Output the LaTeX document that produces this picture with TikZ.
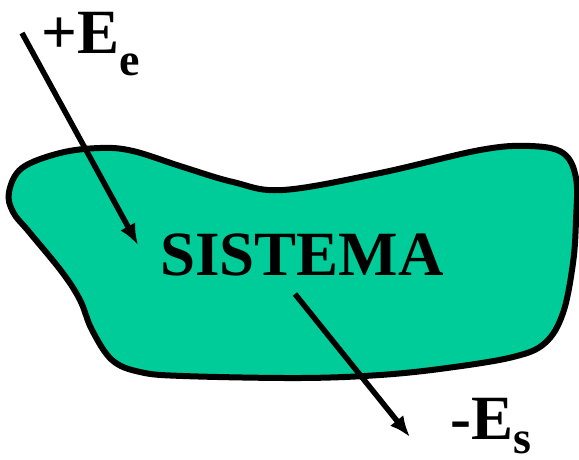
\documentclass[tikz,border=0pt]{standalone}
\usepackage{fontspec}
\setmainfont{Liberation Serif}
\usetikzlibrary{arrows.meta}
\definecolor{sysgreen}{RGB}{0,204,153}
\tikzset{
  bigtext/.style={font=\bfseries\fontsize{63}{70}\selectfont, inner sep=0pt, anchor=base west},
  flowarrow/.style={line width=5.5pt, -{Latex[length=21pt,width=17pt]}}
}
\newcommand{\subtxt}[2]{\raisebox{-#1pt}{\fontsize{46}{50}\selectfont #2}}

\begin{document}
\begin{tikzpicture}[x=1pt,y=-1pt]
  \useasboundingbox (0,0) rectangle (579,459);

  % the system
  \draw[line width=6pt, fill=sysgreen] plot[smooth cycle, tension=0.6] coordinates {
    (9,192) (22,168) (60,153) (100,148) (133,151) (183,167) (233,182) (283,190)
    (380,173) (480,150) (530,146) (563,153) (576,178) (576,220) (573,263)
    (563,313) (545,343) (513,357) (447,368) (380,375) (300,378) (183,376)
    (140,372) (112,360) (92,330) (80,300) (62,272) (30,233) (13,212)};

  \node[bigtext] (sistema) at (160,275) {SISTEMA};
  \node[bigtext] (entra) at (41,53) {+E\subtxt{22}{e}};
  \node[bigtext] (sale) at (450,439) {-E\subtxt{14}{s}};

  % energy in and out
  \coordinate (inA) at (22,33);
  \coordinate (inB) at (138,245);
  \coordinate (outA) at (295,294);
  \coordinate (outB) at (410,437);
  \draw[flowarrow] (inA) -- (inB);
  \draw[flowarrow] (outA) -- (outB);

\end{tikzpicture}
\end{document}
